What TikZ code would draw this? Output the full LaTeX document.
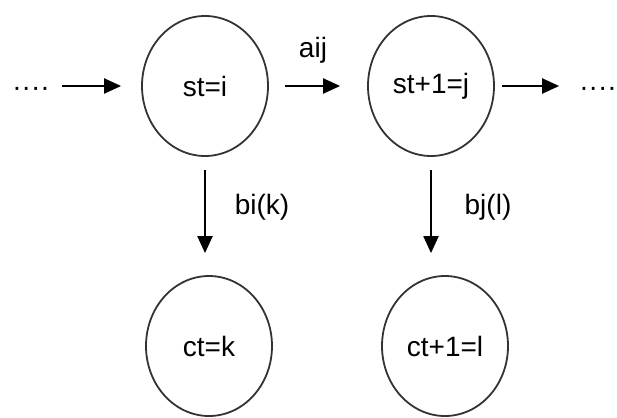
\documentclass[tikz,border=0pt]{standalone}
\usepackage{fontspec}
\setmainfont{Liberation Sans}
\usetikzlibrary{arrows.meta,shapes.geometric}
\begin{document}
\begin{tikzpicture}[x=1pt,y=-1pt,
  statenode/.style={draw=black!80,line width=1.8pt,ellipse,minimum width=126pt,minimum height=140pt,inner sep=0pt,font=\fontsize{28}{30}\selectfont},
  lbl/.style={font=\fontsize{28}{30}\selectfont,inner sep=0pt},
  dotsnode/.style={font=\fontsize{28}{30}\selectfont,inner sep=0pt},
  arr/.style={line width=2.2pt,-{Triangle[length=17pt,width=15pt]}}]
\useasboundingbox (0,0) rectangle (617,417);
\node[statenode] (si) at (205,86) {st=i};
\node[statenode] (sj) at (431,86) {st+1=j};
\node[statenode] (ck) at (209,346) {ct=k};
\node[statenode] (cl) at (445,346) {ct+1=l};
\node[dotsnode,anchor=base] (ld) at (31,96) {····};
\node[dotsnode,anchor=base] (rd) at (598,96) {····};
\draw[arr,shorten <=12pt,shorten >=20pt] (ld.east |- si.west) -- (si.west);
\draw[arr,shorten <=16pt,shorten >=27pt] (si.east) -- (sj.west);
\draw[arr,shorten <=7pt,shorten >=20pt] (sj.east) -- (sj.east -| rd.west);
\draw[arr,shorten <=13pt,shorten >=22pt] (si.south) -- (si.south |- ck.north);
\draw[arr,shorten <=13pt,shorten >=22pt] (sj.south) -- (sj.south |- cl.north);
\node[lbl] (la) at (313,50) {aij};
\node[lbl] (lb) at (262,207) {bi(k)};
\node[lbl] (lc) at (488,207) {bj(l)};
\end{tikzpicture}
\end{document}
